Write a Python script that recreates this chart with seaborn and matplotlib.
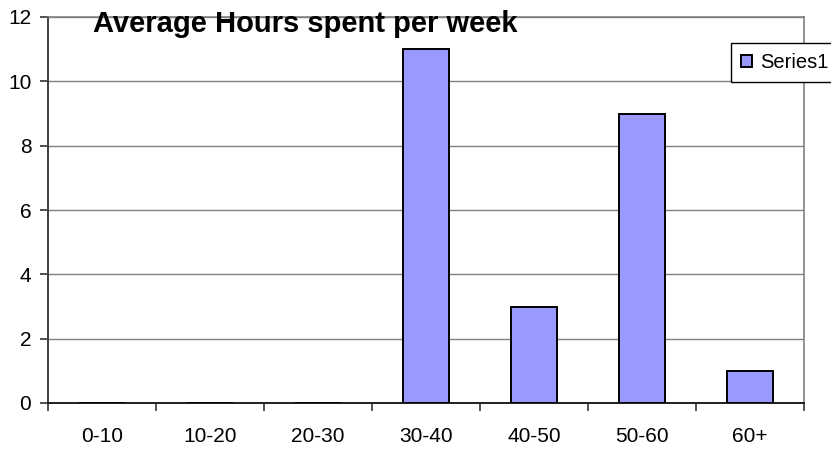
import numpy as np
import pandas as pd
import matplotlib
matplotlib.use('Agg')
import matplotlib.pyplot as plt
import seaborn as sns

# data
categories = ["0-10", "10-20", "20-30", "30-40", "40-50", "50-60", "60+"]
hours = [0, 0, 0, 11, 3, 9, 1]
series_name = "Series1"
chart_title = "Average Hours spent per week"
y_ticks = [0, 2, 4, 6, 8, 10, 12]

df = pd.DataFrame({"range": categories, "count": hours})

sns.set_style("white")
plt.rcParams['font.family'] = ['Liberation Sans', 'DejaVu Sans']
plt.rcParams['text.color'] = 'black'

W, H = 831, 450
fig = plt.figure(figsize=(W / 100, H / 100), dpi=100)
ax = fig.add_axes([48 / W, 47 / H, 756 / W, 386 / H])

sns.barplot(data=df, x="range", y="count", ax=ax, color="#9999FF",
            saturation=1, width=0.43, edgecolor="black", linewidth=1.4,
            label=series_name, zorder=3)

ax.set_xlim(-0.5, len(categories) - 0.5)
ax.set_ylim(0, 12)
ax.set_yticks(y_ticks)
ax.set_yticklabels([str(t) for t in y_ticks])
ax.set_xlabel("")
ax.set_ylabel("")

# labels at the centre, tick marks between categories (Excel style)
ax.set_xticks(range(len(categories)))
ax.set_xticklabels(categories)
ax.set_xticks(np.arange(-0.5, len(categories)), minor=True)
ax.tick_params(axis='x', which='major', length=0, pad=17, labelsize=15,
               labelcolor='black')
ax.tick_params(axis='x', which='minor', length=6, width=1.2,
               color='#333333', direction='out', bottom=True)
ax.tick_params(axis='y', which='major', length=6, width=1.2,
               color='#333333', direction='out', left=True, pad=6,
               labelsize=15, labelcolor='black')

ax.yaxis.grid(True, color='#808080', linewidth=1.0, zorder=0)
ax.set_axisbelow(True)

for side in ['top', 'right']:
    ax.spines[side].set_color('#808080')
    ax.spines[side].set_linewidth(1.2)
ax.spines['left'].set_color('#404040')
ax.spines['left'].set_linewidth(1.4)
ax.spines['bottom'].set_color('#202020')
ax.spines['bottom'].set_linewidth(1.4)

fig.text(93 / W, 1 - 32 / H, chart_title, ha='left', va='baseline',
         fontsize=21, fontweight='bold', color='black')

leg = ax.legend(loc='upper left', bbox_to_anchor=(731 / W, 1 - 43 / H),
                bbox_transform=fig.transFigure, fontsize=14.5, frameon=True,
                fancybox=False, shadow=False, framealpha=1,
                borderpad=0.5, handlelength=0.55, handleheight=0.55,
                handletextpad=0.4, borderaxespad=0, labelcolor='black')
leg.get_frame().set_edgecolor('black')
leg.get_frame().set_linewidth(1.0)

fig.savefig("out.png", dpi=100)
